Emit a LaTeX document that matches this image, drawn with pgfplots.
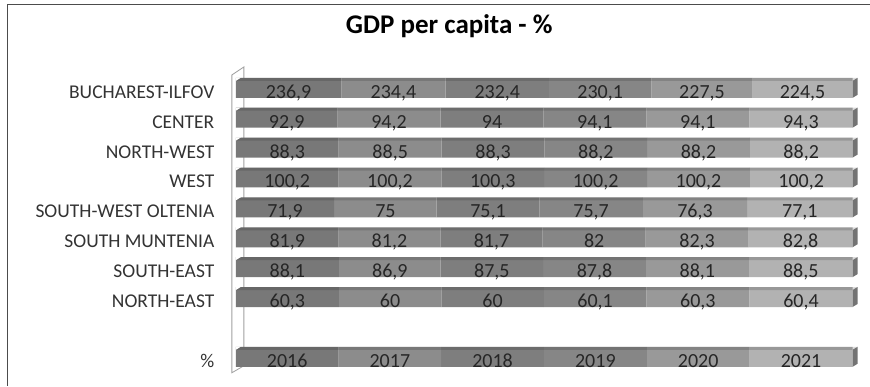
\documentclass[border=0pt]{standalone}
\usepackage{pgfplots}
\pgfplotsset{compat=1.18}
\usepackage{pgfplotstable}
\usepackage{fontspec}
\setmainfont{Carlito}
\definecolor{cA}{HTML}{787878}
\definecolor{cB}{HTML}{8C8C8C}
\definecolor{cC}{HTML}{7E7E7E}
\definecolor{cD}{HTML}{868686}
\definecolor{cE}{HTML}{999999}
\definecolor{cF}{HTML}{B2B2B2}
\definecolor{txt}{HTML}{262626}
\definecolor{wall}{HTML}{A0A0A0}

\pgfplotstableread{
pos a b c d e f
9 236.9 234.4 232.4 230.1 227.5 224.5
8 92.9 94.2 94 94.1 94.1 94.3
7 88.3 88.5 88.3 88.2 88.2 88.2
6 100.2 100.2 100.3 100.2 100.2 100.2
5 71.9 75 75.1 75.7 76.3 77.1
4 81.9 81.2 81.7 82 82.3 82.8
3 88.1 86.9 87.5 87.8 88.1 88.5
2 60.3 60 60 60.1 60.3 60.4
0 2016 2017 2018 2019 2020 2021
}\data
\pgfplotstablecreatecol[expr={\thisrow{a}+\thisrow{b}+\thisrow{c}+\thisrow{d}+\thisrow{e}+\thisrow{f}}]{s}\data
\pgfplotstablecreatecol[expr={\thisrow{a}/\thisrow{s}*50}]{ma}\data
\pgfplotstablecreatecol[expr={(\thisrow{a}+\thisrow{b}/2)/\thisrow{s}*100}]{mb}\data
\pgfplotstablecreatecol[expr={(\thisrow{a}+\thisrow{b}+\thisrow{c}/2)/\thisrow{s}*100}]{mc}\data
\pgfplotstablecreatecol[expr={(\thisrow{a}+\thisrow{b}+\thisrow{c}+\thisrow{d}/2)/\thisrow{s}*100}]{md}\data
\pgfplotstablecreatecol[expr={(\thisrow{a}+\thisrow{b}+\thisrow{c}+\thisrow{d}+\thisrow{e}/2)/\thisrow{s}*100}]{me}\data
\pgfplotstablecreatecol[expr={(\thisrow{a}+\thisrow{b}+\thisrow{c}+\thisrow{d}+\thisrow{e}+\thisrow{f}/2)/\thisrow{s}*100}]{mf}\data

\pgfplotsset{
  base/.style={
    at={(236pt,14.05pt)}, anchor=south west,
    scale only axis, width=617pt, height=299pt,
    xmin=0, xmax=100, ymin=-0.5, ymax=9.5,
    axis line style={draw=none},
    xtick=\empty,
    major tick length=0pt,
    clip=false,
  },
  lab/.style={draw=none, mark=none, nodes near coords, point meta=explicit},
}

\begin{document}
\begin{tikzpicture}[x=1pt,y=1pt]
\path (0,0) rectangle (870,386);
\draw[color=black!70, line width=1pt] (8,0) -- (8,381) -- (870,381);
\node[font=\fontsize{27}{30}\selectfont\bfseries, text=black, anchor=base] at (449.5,352) {GDP per capita - \%};
% wall
\draw[wall, line width=0.8pt, fill=white] (232,13) -- (232,311) -- (244,319) -- (244,20) -- cycle;
\begin{axis}[base,
  xbar stacked, bar width=20pt,
  ytick={0,2,3,4,5,6,7,8,9},
  yticklabels={\%, NORTH-EAST, SOUTH-EAST, SOUTH MUNTENIA, SOUTH-WEST OLTENIA, WEST, NORTH-WEST, CENTER, BUCHAREST-ILFOV},
  yticklabel style={font=\fontsize{19.5}{21}\selectfont, text=black!80, anchor=base east, xshift=-18pt, yshift=-10.5pt},
  every axis plot/.append style={draw=none},
]
\addplot[fill=cA] table[x expr=\thisrow{a}/\thisrow{s}*100, y=pos] {\data};
\addplot[fill=cB] table[x expr=\thisrow{b}/\thisrow{s}*100, y=pos] {\data};
\addplot[fill=cC] table[x expr=\thisrow{c}/\thisrow{s}*100, y=pos] {\data};
\addplot[fill=cD] table[x expr=\thisrow{d}/\thisrow{s}*100, y=pos] {\data};
\addplot[fill=cE] table[x expr=\thisrow{e}/\thisrow{s}*100, y=pos] {\data};
\addplot[fill=cF] table[x expr=\thisrow{f}/\thisrow{s}*100, y=pos] {\data};
\end{axis}
% 3-D faces of the bars
\foreach \k in {0,2,3,4,5,6,7,8,9}{
  \pgfmathsetmacro\c{29+29.9*\k}
  \fill[black, opacity=0.14] (236,\c+7) -- (241,\c+10) -- (858,\c+10) -- (853,\c+7) -- cycle;
  \fill[white] (236,\c+7) -- (236,\c+10.2) -- (241,\c+10.2) -- cycle;
  \fill[black!55] (853,\c-10) -- (858,\c-7) -- (858,\c+10) -- (853,\c+7) -- cycle;
}
\begin{axis}[base, ytick=\empty,
  /pgf/number format/.cd, fixed, precision=1, use comma, 1000 sep={}, assume math mode=true,
  /pgfplots/.cd,
  every node near coord/.append style={anchor=base, font=\fontsize{20}{21}\selectfont, text=txt, yshift=-10.5pt},
]
\addplot[lab] table[x=ma, y=pos, meta=a] {\data};
\addplot[lab] table[x=mb, y=pos, meta=b] {\data};
\addplot[lab] table[x=mc, y=pos, meta=c] {\data};
\addplot[lab] table[x=md, y=pos, meta=d] {\data};
\addplot[lab] table[x=me, y=pos, meta=e] {\data};
\addplot[lab] table[x=mf, y=pos, meta=f] {\data};
\end{axis}
\end{tikzpicture}
\end{document}
